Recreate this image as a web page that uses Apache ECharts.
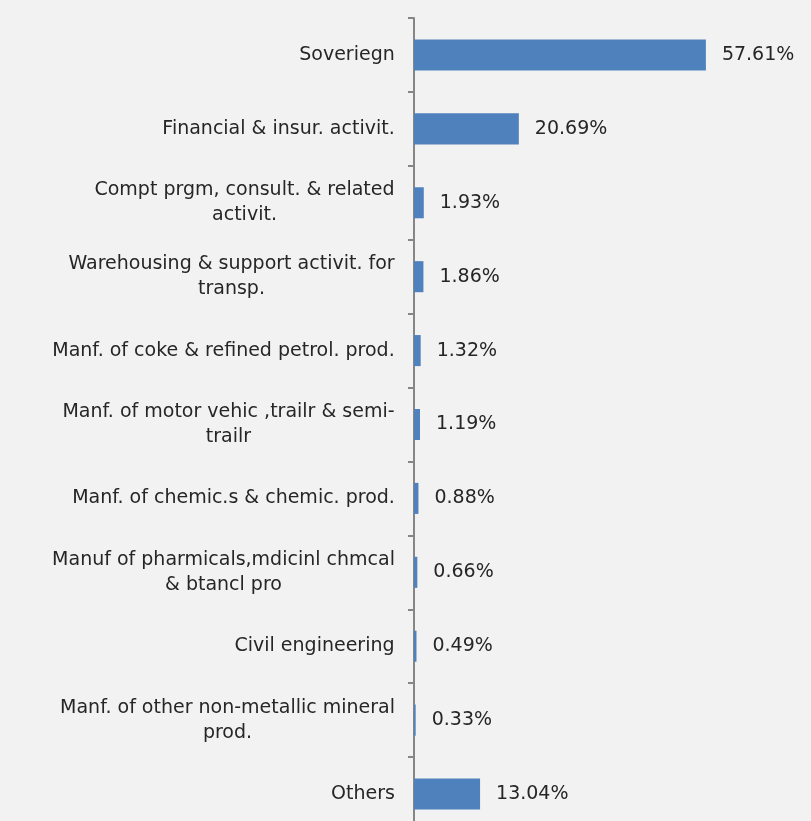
<!DOCTYPE html>
<html>
<head>
<meta charset="utf-8">
<script src="https://cdn.jsdelivr.net/npm/echarts@6/dist/echarts.min.js"></script>
<style>
  html, body { margin: 0; padding: 0; background: #F2F2F2; }
  #main { width: 811px; height: 821px; }
</style>
</head>
<body>
<div id="main"></div>
<script>
// sectors, top to bottom
var categories = [
  'Soveriegn',
  'Financial & insur. activit.',
  'Compt prgm, consult. & related\nactivit.',
  'Warehousing & support activit. for\ntransp.',
  'Manf. of coke & refined petrol. prod.',
  'Manf. of motor vehic ,trailr & semi-\ntrailr',
  'Manf. of chemic.s & chemic. prod.',
  'Manuf of pharmicals,mdicinl chmcal\n& btancl pro',
  'Civil engineering',
  'Manf. of other non-metallic mineral\nprod.',
  'Others'
];
var shares = [57.61, 20.69, 1.93, 1.86, 1.32, 1.19, 0.88, 0.66, 0.49, 0.33, 13.04];

var labelFont = '19px "DejaVu Sans"';

// measure widest line so multi-line labels are centred but right-flush to the axis
var ctx = document.createElement('canvas').getContext('2d');
ctx.font = labelFont;
function widest(txt) {
  var w = 0;
  txt.split('\n').forEach(function (l) { w = Math.max(w, ctx.measureText(l).width); });
  return Math.ceil(w);
}
var yData = categories.map(function (c) {
  return { value: c, textStyle: { align: 'center', padding: [0, widest(c), 0, 0] } };
});

var myChart = echarts.init(document.getElementById('main'));
var option = {
  backgroundColor: '#F2F2F2',
  animation: false,
  grid: { left: 414, top: 18, height: 813, width: 304, outerBoundsMode: 'none' },
  xAxis: {
    type: 'value', min: 0, max: 60, show: false
  },
  yAxis: {
    type: 'category',
    inverse: true,
    data: yData,
    axisLine: { lineStyle: { color: '#868686', width: 2 } },
    axisTick: { show: true, length: 6, lineStyle: { color: '#868686', width: 2 } },
    axisLabel: {
      color: '#262626',
      fontFamily: 'DejaVu Sans',
      fontSize: 19,
      lineHeight: 25,
      margin: 19
    }
  },
  series: [{
    type: 'bar',
    data: shares,
    barCategoryGap: '58%',
    itemStyle: { color: '#4F81BD' },
    label: {
      show: true,
      position: 'right',
      distance: 16,
      color: '#262626',
      fontFamily: 'DejaVu Sans',
      fontSize: 19,
      formatter: function (p) { return p.value.toFixed(2) + '%'; }
    }
  }]
};
myChart.setOption(option);
</script>
</body>
</html>
